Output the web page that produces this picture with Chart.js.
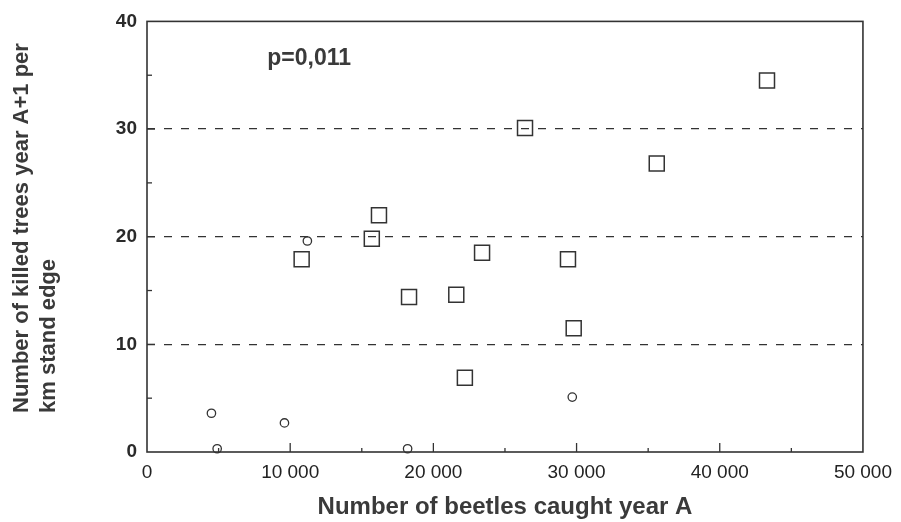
<!DOCTYPE html>
<html>
<head>
<meta charset="utf-8">
<script src="https://cdn.jsdelivr.net/npm/chart.js@4/dist/chart.umd.min.js"></script>
<style>
  html, body { margin: 0; padding: 0; background: #ffffff; }
  #c { display: block; }
</style>
</head>
<body>
<canvas id="c" width="901" height="522"></canvas>
<script>
// ---- data ----
const squareX = [43300, 35600, 26400, 16200, 15700, 10800, 23400, 29400, 18300, 21600, 22200, 29800];
const squareY = [34.5, 26.8, 30.1, 22.0, 19.8, 17.9, 18.5, 17.9, 14.4, 14.6, 6.9, 11.5];
const circleX = [4500, 9600, 4900, 18200, 29700, 11200];
const circleY = [3.6, 2.7, 0.3, 0.3, 5.1, 19.6];
const xTickValues = [0, 10000, 20000, 30000, 40000, 50000];
const yTickValues = [0, 10, 20, 30, 40];
const xTitle = 'Number of beetles caught year A';
const yTitleLines = ['Number of killed trees year A+1 per', 'km stand edge'];
const pText = 'p=0,011';

const INK = '#333333';
const TXT = '#3a3a3a';
const FONT = "'Liberation Sans', Arial, sans-serif";

function toPoints(xs, ys) { return xs.map((x, i) => ({ x: x, y: ys[i] })); }
function fmtThousands(v) {
  const s = String(Math.round(v));
  return s.replace(/\B(?=(\d{3})+(?!\d))/g, ' ');
}

const framePlugin = {
  id: 'frame',
  afterDatasetsDraw(chart) {
    const ctx = chart.ctx;
    const a = chart.chartArea;
    const xs = chart.scales.x, ys = chart.scales.y;
    ctx.save();
    // box
    ctx.strokeStyle = INK;
    ctx.lineWidth = 1.6;
    ctx.strokeRect(a.left, a.top, a.right - a.left, a.bottom - a.top);
    // inner ticks on x axis
    ctx.lineWidth = 1.3;
    for (let v = 5000; v < 50000; v += 5000) {
      const px = xs.getPixelForValue(v);
      const len = (v % 10000 === 0) ? 9 : 4;
      ctx.beginPath();
      ctx.moveTo(px, a.bottom);
      ctx.lineTo(px, a.bottom - len);
      ctx.stroke();
    }
    // inner ticks on y axis
    for (let v = 5; v < 40; v += 5) {
      const py = ys.getPixelForValue(v);
      const len = (v % 10 === 0) ? 8 : 5;
      ctx.beginPath();
      ctx.moveTo(a.left, py);
      ctx.lineTo(a.left + len, py);
      ctx.stroke();
    }
    // p value annotation
    ctx.fillStyle = TXT;
    ctx.font = 'bold 23px ' + FONT;
    ctx.textAlign = 'left';
    ctx.textBaseline = 'middle';
    ctx.fillText(pText, xs.getPixelForValue(8400), ys.getPixelForValue(36.5));
    // y axis title, two lines, start-aligned in the rotated frame
    ctx.font = 'bold 22px ' + FONT;
    ctx.textAlign = 'left';
    ctx.textBaseline = 'middle';
    const startY = 413;
    const lineX = [22, 49];
    yTitleLines.forEach((t, i) => {
      ctx.save();
      ctx.translate(lineX[i], startY);
      ctx.rotate(-Math.PI / 2);
      ctx.fillText(t, 0, 0);
      ctx.restore();
    });
    ctx.restore();
  }
};

new Chart(document.getElementById('c'), {
  type: 'scatter',
  data: {
    datasets: [
      {
        label: 'squares',
        data: toPoints(squareX, squareY),
        pointStyle: 'rect',
        pointRadius: 10.6,
        pointBorderWidth: 1.5,
        pointBorderColor: INK,
        pointBackgroundColor: 'rgba(255,255,255,0)',
        clip: false
      },
      {
        label: 'circles',
        data: toPoints(circleX, circleY),
        pointStyle: 'circle',
        pointRadius: 4.2,
        pointBorderWidth: 1.3,
        pointBorderColor: INK,
        pointBackgroundColor: 'rgba(255,255,255,0)',
        clip: false
      }
    ]
  },
  options: {
    responsive: false,
    animation: false,
    events: [],
    layout: { padding: { left: 0, right: 37, top: 17, bottom: 0 } },
    plugins: { legend: { display: false }, tooltip: { enabled: false } },
    scales: {
      x: {
        type: 'linear',
        min: 0, max: 50000,
        afterBuildTicks(s) { s.ticks = xTickValues.map(v => ({ value: v })); },
        afterFit(s) { s.height = 70; },
        grid: { display: false, drawTicks: false },
        border: { display: false },
        ticks: {
          padding: 9,
          color: '#222222',
          font: { family: FONT, size: 19 },
          maxRotation: 0,
          callback: v => fmtThousands(v)
        },
        title: {
          display: true,
          text: xTitle,
          color: TXT,
          font: { family: FONT, size: 24, weight: 'bold' },
          padding: { top: 0, bottom: 0 }
        }
      },
      y: {
        type: 'linear',
        min: 0, max: 40,
        afterBuildTicks(s) { s.ticks = yTickValues.map(v => ({ value: v })); },
        afterFit(s) { s.width = 147; },
        border: { display: false, dash: [8, 9] },
        grid: {
          drawTicks: false,
          color: ctx => (ctx.tick && (ctx.tick.value === 0 || ctx.tick.value === 40)) ? 'rgba(0,0,0,0)' : INK,
          lineWidth: 1.3
        },
        ticks: {
          padding: 10,
          color: '#2a2a2a',
          font: { family: FONT, size: 19, weight: 'bold' },
          callback: v => String(v)
        }
      }
    }
  },
  plugins: [framePlugin]
});
</script>
</body>
</html>
